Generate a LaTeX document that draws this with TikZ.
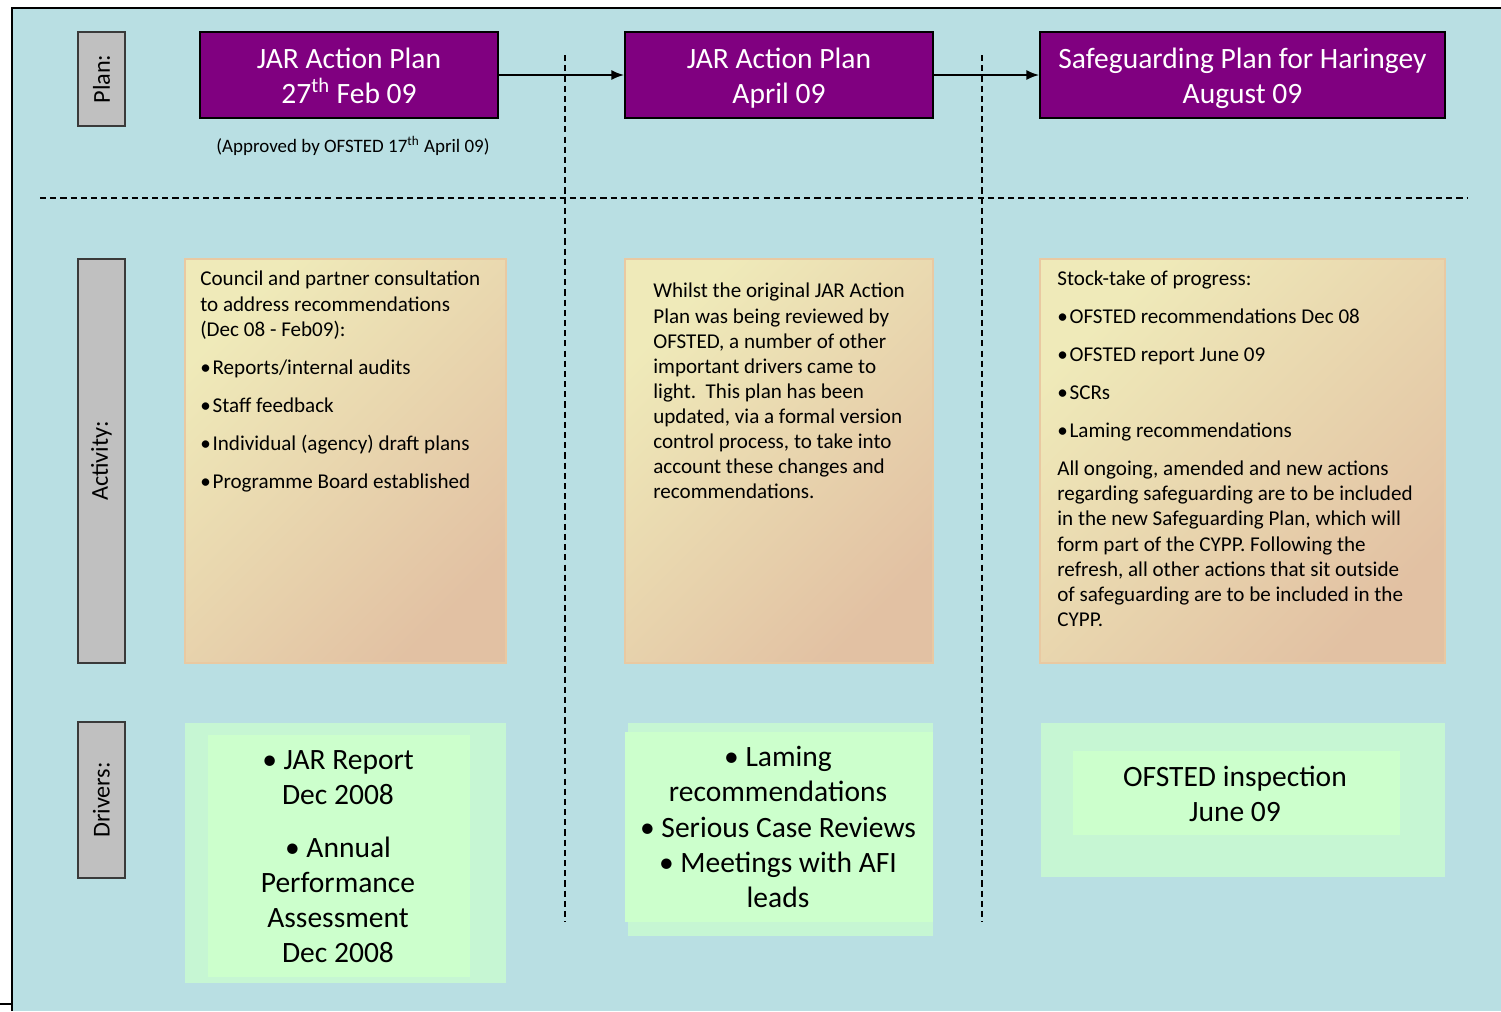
\documentclass[tikz,border=0pt]{standalone}
\usepackage{fontspec}
\setmainfont{Carlito}
\usetikzlibrary{
        arrows.meta,
        positioning,
        shadings
    }
\definecolor{bgblue}{HTML}{B9DFE3}
\definecolor{planpurple}{HTML}{800080}
\definecolor{lblgray}{HTML}{C0C0C0}
\definecolor{lblline}{HTML}{3A3A3A}
\definecolor{acttop}{HTML}{EFEAB9}
\definecolor{actbot}{HTML}{E2C1A3}
\definecolor{actline}{HTML}{E9C9A2}
\definecolor{drvout}{HTML}{C6F6D3}
\definecolor{drvin}{HTML}{CCFFCC}
\newcommand{\planstrut}{\rule{0pt}{19pt}}
\tikzset{>={Latex[length=7.2pt,width=5.6pt]},shorten >=0pt,auto}
\tikzset{
    lbl/.style={draw=lblline,fill=lblgray,line width=1.1pt,minimum width=0.94cm,inner sep=0pt,font=\fontsize{13.8}{16}\selectfont},
    plan/.style={draw=black,fill=planpurple,line width=1.1pt,text=white,align=center,inner sep=0pt,font=\fontsize{16.8}{19.9}\selectfont,minimum height=1.72cm},
    act/.style={draw=actline,line width=1pt,top color=acttop,bottom color=actbot,shading angle=45,minimum height=8.08cm,inner sep=0pt},
    acttext/.style={anchor=north west,align=left,inner sep=0pt,font=\fontsize{12}{14.3}\selectfont},
    drvbox/.style={fill=drvout,inner sep=0pt},
    drvinner/.style={fill=drvin,inner sep=0pt},
    drvtext/.style={align=center,inner sep=0pt,font=\fontsize{16.8}{20}\selectfont},
    sep/.style={dash pattern=on 3.5pt off 2.3pt,line width=0.6pt}
}

\begin{document}
\begin{tikzpicture}[x=0.02cm,y=-0.02cm]
    \useasboundingbox (0,0) rectangle (1501,1011);
    % frame and background
    \fill[bgblue] (12,8) rectangle (1501,1011);
    \draw[line width=1.1pt] (12,1011) -- (12,8) -- (1501,8);
    \draw[line width=1.1pt] (0,1004) -- (12,1004);

    % row labels
    \node[lbl,minimum height=1.88cm] (labplan) at (101.5,79) {\rotatebox{90}{Plan:}};
    \node[lbl,minimum height=8.08cm] (labact) at (101.5,461) {\rotatebox{90}{Activity:}};
    \node[lbl,minimum height=3.12cm] (labdrv) at (101.5,800) {\rotatebox{90}{Drivers:}};

    % plans
    \node[plan,minimum width=5.96cm] (plana) at (349,75) {\planstrut JAR Action Plan\\27\textsuperscript{th} Feb 09\strut};
    \node[plan,minimum width=6.16cm] (planb) at (779,75) {\planstrut JAR Action Plan\\April 09\strut};
    \node[plan,minimum width=8.1cm] (planc) at (1242.5,75) {\planstrut Safeguarding Plan for Haringey\\August 09\strut};
    \node[inner sep=0pt,font=\fontsize{10.8}{12}\selectfont] (approved) at (353,146) {(Approved by OFSTED 17\textsuperscript{th} April 09)};
    \draw[->,line width=0.9pt] (plana) -- (planb);
    \draw[->,line width=0.9pt] (planb) -- (planc);

    % separators
    \draw[sep] (40,198) -- (1468,198);
    \draw[sep] (565,55) -- (565,922);
    \draw[sep] (982,55) -- (982,922);

    % activity
    \node[act,minimum width=6.42cm] (acta) at (345.5,461) {};
    \node[act,minimum width=6.16cm] (actb) at (779,461) {};
    \node[act,minimum width=8.1cm] (actc) at (1242.5,461) {};
    \node[acttext] (acttexta) at (200,271) {Council and partner consultation\\
        to address recommendations\\
        (Dec 08 - Feb09):\\[7.3pt]
        •\hspace{1pt}Reports/internal audits\\[7.3pt]
        •\hspace{1pt}Staff feedback\\[7.3pt]
        •\hspace{1pt}Individual (agency) draft plans\\[7.3pt]
        •\hspace{1pt}Programme Board established};
    \node[acttext] (acttextb) at (653,283) {Whilst the original JAR Action\\
        Plan was being reviewed by\\
        OFSTED, a number of other\\
        important drivers came to\\
        light.\ \ This plan has been\\
        updated, via a formal version\\
        control process, to take into\\
        account these changes and\\
        recommendations.};
    \node[acttext] (acttextc) at (1057,271) {Stock-take of progress:\\[7.3pt]
        •\hspace{1pt}OFSTED recommendations Dec 08\\[7.3pt]
        •\hspace{1pt}OFSTED report June 09\\[7.3pt]
        •\hspace{1pt}SCRs\\[7.3pt]
        •\hspace{1pt}Laming recommendations\\[7.3pt]
        All ongoing, amended and new actions\\
        regarding safeguarding are to be included\\
        in the new Safeguarding Plan, which will\\
        form part of the CYPP. Following the\\
        refresh, all other actions that sit outside\\
        of safeguarding are to be included in the\\
        CYPP.};

    % drivers
    \node[drvbox,minimum width=6.42cm,minimum height=5.2cm] (drva) at (345.5,853) {};
    \node[drvinner,minimum width=5.24cm,minimum height=4.84cm] (drvina) at (339,856) {};
    \node[drvbox,minimum width=6.1cm,minimum height=4.26cm] (drvb) at (780.5,829.5) {};
    \node[drvinner,minimum width=6.16cm,minimum height=3.8cm] (drvinb) at (779,827) {};
    \node[drvbox,minimum width=8.08cm,minimum height=3.08cm] (drvc) at (1243,800) {};
    \node[drvinner,minimum width=6.54cm,minimum height=1.68cm] (drvinc) at (1236.5,793) {};
    \node[drvtext] (drvtexta) at (338,856.5) {• JAR Report\\Dec 2008\\[10pt]• Annual\\Performance\\Assessment\\Dec 2008};
    \node[drvtext] (drvtextb) at (778,827) {• Laming\\recommendations\\• Serious Case Reviews\\• Meetings with AFI\\leads};
    \node[drvtext] (drvtextc) at (1235,793.5) {OFSTED inspection\\June 09};
\end{tikzpicture}
\end{document}
